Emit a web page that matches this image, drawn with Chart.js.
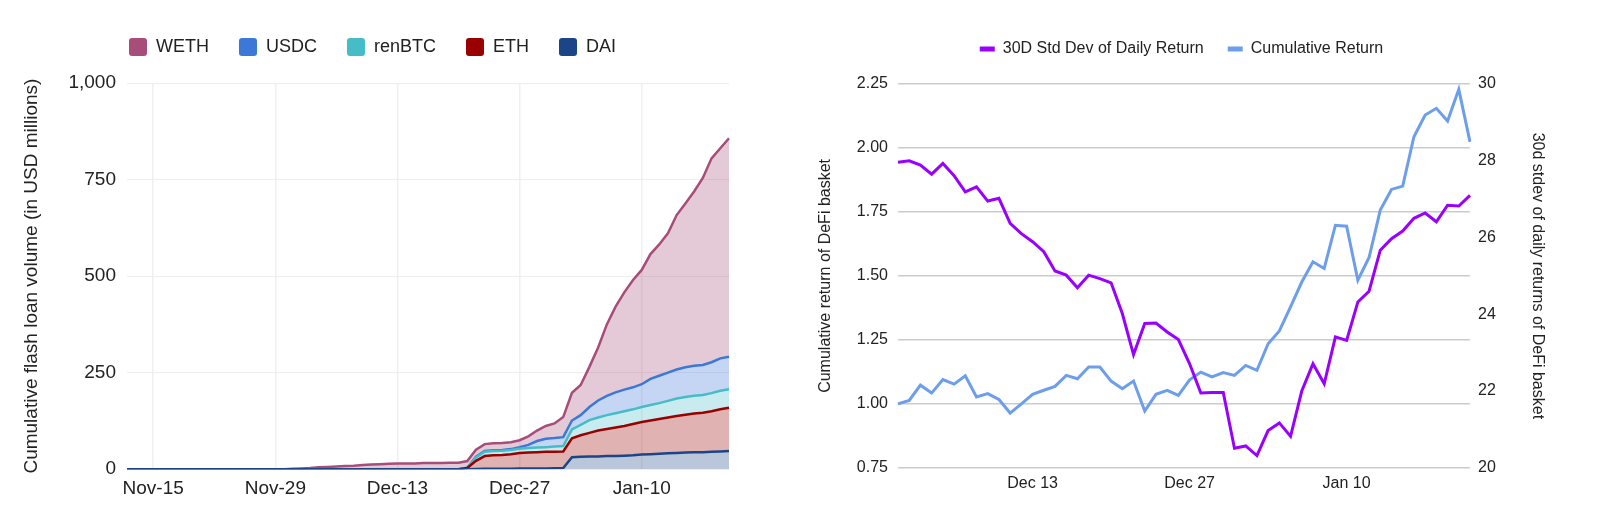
<!DOCTYPE html>
<html>
<head>
<meta charset="utf-8">
<script src="https://cdn.jsdelivr.net/npm/chart.js@4/dist/chart.umd.min.js"></script>
<style>
  body { margin: 0; background: #fff; }
  #wrap { position: relative; width: 1600px; height: 520px; }
  canvas { position: absolute; top: 0; }
  #left { left: 0; }
  #right { left: 790px; }
</style>
</head>
<body>
<div id="wrap">
  <canvas id="left" width="740" height="520"></canvas>
  <canvas id="right" width="785" height="520"></canvas>
</div>
<script>
// ---- left chart: cumulative flash loan volume (USD millions), daily
const loanDays = [
  "Nov-12","Nov-13","Nov-14","Nov-15","Nov-16","Nov-17","Nov-18","Nov-19","Nov-20","Nov-21",
  "Nov-22","Nov-23","Nov-24","Nov-25","Nov-26","Nov-27","Nov-28","Nov-29","Nov-30","Dec-1",
  "Dec-2","Dec-3","Dec-4","Dec-5","Dec-6","Dec-7","Dec-8","Dec-9","Dec-10","Dec-11",
  "Dec-12","Dec-13","Dec-14","Dec-15","Dec-16","Dec-17","Dec-18","Dec-19","Dec-20","Dec-21",
  "Dec-22","Dec-23","Dec-24","Dec-25","Dec-26","Dec-27","Dec-28","Dec-29","Dec-30","Dec-31",
  "Jan-1","Jan-2","Jan-3","Jan-4","Jan-5","Jan-6","Jan-7","Jan-8","Jan-9","Jan-10",
  "Jan-11","Jan-12","Jan-13","Jan-14","Jan-15","Jan-16","Jan-17","Jan-18","Jan-19","Jan-20"
];
const loanTicks = ["Nov-15", "Nov-29", "Dec-13", "Dec-27", "Jan-10"];

const wethVol = [
  0,0,0,0,0,0,0,0,0,0, 0,0,0,0,0,0,0,0,0,1,
  2,3,5,6,7,8,9,11,12,13, 14,15,15,15,16,16,16,17,17,17,
  18,18,18,18,18,18,22,27,33,38, 52,72,78,104,137,185,222,252,278,296,
  323,340,361,400,424,451,484,528,544,566
];
const usdcVol = [
  0,0,0,0,0,0,0,0,0,0, 0,0,0,0,0,0,0,0,0,0,
  0,0,0,0,0,0,0,0,0,0, 0,0,0,0,0,0,0,0,0,0.5,
  2,2,2,2,2,4,8,17,22,22, 23,23,25,34,44,50,54,56,57,59,
  68,71,73,75,77,78,78,80,84,84
];
const renbtcVol = [
  0,0,0,0,0,0,0,0,0,0, 0,0,0,0,0,0,0,0,0,0,
  0,0,0,0,0,0,0,0,0,0, 0,0,0,0,0,0,0,0,0,0.5,
  9,11,11,11,11,11,12,12,12,13, 14,23,27,33,34,36,37,38,38,39,
  40,41,43,45,46,46,46,47,48,48
];
const ethVol = [
  0,0,0,0,0,0,0,0,0,0, 0,0,0,0,0,0,0,0,0,0,
  0,0,0,0,0,0,0,0,0,0, 0,0,0,0,0,0,0,0,0,3,
  21,33,35,36,38,40.5,41,42,43,43, 43,49,56,61,67,70,74,77,81,84,
  87,90,93,96,98,100,102,105,109,112
];
const daiVol = [
  0,0,0,0,0,0,0,0,0,0, 0,0,0,0,0,0,0,0,0,0,
  0,0,0,0,0,0,0,0,0,0, 0,0,0,0,0,0,0,0,0,0,
  0.5,1,1,1,1,1.5,2,2,2,2.5, 3,31,32,33,33,34,34,35,36,38,
  39,40,41,42,43,44,44,45,46,47
];

// ---- right chart: DeFi basket return and volatility, daily
const basketDays = [
  "Dec 1","Dec 2","Dec 3","Dec 4","Dec 5","Dec 6","Dec 7","Dec 8","Dec 9","Dec 10",
  "Dec 11","Dec 12","Dec 13","Dec 14","Dec 15","Dec 16","Dec 17","Dec 18","Dec 19","Dec 20",
  "Dec 21","Dec 22","Dec 23","Dec 24","Dec 25","Dec 26","Dec 27","Dec 28","Dec 29","Dec 30",
  "Dec 31","Jan 1","Jan 2","Jan 3","Jan 4","Jan 5","Jan 6","Jan 7","Jan 8","Jan 9",
  "Jan 10","Jan 11","Jan 12","Jan 13","Jan 14","Jan 15","Jan 16","Jan 17","Jan 18","Jan 19",
  "Jan 20","Jan 21"
];
const basketTicks = ["Dec 13", "Dec 27", "Jan 10"];

const stdDev30d = [
  27.96,28.00,27.89,27.65,27.93,27.61,27.19,27.32,26.95,27.02,
  26.37,26.10,25.89,25.63,25.13,25.02,24.69,25.02,24.93,24.82,
  24.02,22.95,23.76,23.77,23.54,23.34,22.71,21.95,21.96,21.96,
  20.51,20.57,20.32,20.97,21.17,20.82,22.00,22.71,22.19,23.41,
  23.32,24.32,24.60,25.67,25.97,26.17,26.50,26.64,26.41,26.84,
  26.82,27.10
];
const cumReturn = [
  1.000,1.013,1.073,1.042,1.095,1.077,1.110,1.027,1.040,1.017,
  0.964,1.000,1.037,1.053,1.068,1.111,1.098,1.144,1.144,1.089,
  1.059,1.089,0.972,1.037,1.053,1.033,1.094,1.124,1.105,1.122,
  1.111,1.150,1.131,1.235,1.285,1.379,1.476,1.555,1.529,1.698,
  1.694,1.483,1.572,1.757,1.838,1.851,2.044,2.129,2.155,2.105,
  2.229,2.024
];

const FONT = "'Liberation Sans', Arial, sans-serif";

// legend height fixed so the plot area starts where the reference has it
const legendHeight = (h) => ({
  id: "legendHeight",
  beforeInit(chart) {
    const fit = chart.legend.fit;
    chart.legend.fit = function () {
      fit.call(this);
      this.height = h;
    };
  },
});

const solidLegend = (chart) =>
  Chart.defaults.plugins.legend.labels.generateLabels(chart).map((item) => {
    item.fillStyle = item.strokeStyle;
    item.lineWidth = 0;
    return item;
  });

const area = (label, data, color, fill) => ({
  label,
  data,
  borderColor: color,
  backgroundColor: color + "4d",
  borderWidth: 2.5,
  pointRadius: 0,
  tension: 0,
  fill,
});

new Chart(document.getElementById("left"), {
  type: "line",
  data: {
    labels: loanDays,
    datasets: [
      area("DAI", daiVol, "#1c4587", "origin"),
      area("ETH", ethVol, "#990000", "-1"),
      area("renBTC", renbtcVol, "#46bdc6", "-1"),
      area("USDC", usdcVol, "#3c78d8", "-1"),
      area("WETH", wethVol, "#a64d79", "-1"),
    ],
  },
  options: {
    responsive: false,
    animation: false,
    layout: { padding: { top: 8, left: 16, right: 11, bottom: 12 } },
    plugins: {
      tooltip: { enabled: false },
      legend: {
        position: "top",
        reverse: true,
        labels: {
          font: { family: FONT, size: 18 },
          color: "#222",
          boxWidth: 18,
          boxHeight: 18,
          padding: 30,
          useBorderRadius: true,
          borderRadius: 3,
          generateLabels: solidLegend,
        },
      },
    },
    scales: {
      x: {
        border: { display: false },
        grid: {
          drawTicks: false,
          lineWidth: 1.5,
          color: (c) => (c.tick && c.tick.label ? "#f0f0f0" : "rgba(0,0,0,0)"),
        },
        ticks: {
          autoSkip: false,
          maxRotation: 0,
          minRotation: 0,
          padding: 8,
          color: "#222",
          font: { family: FONT, size: 19 },
          callback: (v, i) => (loanTicks.includes(loanDays[i]) ? loanDays[i] : null),
        },
      },
      y: {
        stacked: true,
        min: 0,
        max: 1000,
        border: { display: false },
        grid: { drawTicks: false, color: "#eeeeee" },
        ticks: {
          stepSize: 250,
          padding: 11,
          color: "#222",
          font: { family: FONT, size: 19 },
          callback: (v) => v.toLocaleString("en-US"),
        },
        title: {
          display: true,
          text: "Cumulative flash loan volume (in USD millions)",
          color: "#222",
          font: { family: FONT, size: 19 },
        },
        afterFit: (s) => { s.width = 111; },
      },
    },
  },
  plugins: [legendHeight(75)],
});

new Chart(document.getElementById("right"), {
  type: "line",
  data: {
    labels: basketDays,
    datasets: [
      {
        label: "30D Std Dev of Daily Return",
        data: stdDev30d,
        yAxisID: "y2",
        borderColor: "#9900ff",
        backgroundColor: "#9900ff",
        borderWidth: 3,
        pointRadius: 0,
        tension: 0,
      },
      {
        label: "Cumulative Return",
        data: cumReturn,
        yAxisID: "y",
        borderColor: "#6d9eeb",
        backgroundColor: "#6d9eeb",
        borderWidth: 3,
        pointRadius: 0,
        tension: 0,
      },
    ],
  },
  options: {
    responsive: false,
    animation: false,
    layout: { padding: { top: 17, left: 22, right: 24, bottom: 21 } },
    plugins: {
      tooltip: { enabled: false },
      legend: {
        position: "top",
        labels: {
          font: { family: FONT, size: 16 },
          color: "#222",
          boxWidth: 15,
          boxHeight: 5,
          padding: 24,
          generateLabels: solidLegend,
        },
      },
    },
    scales: {
      x: {
        border: { display: false },
        grid: {
          drawTicks: false,
          lineWidth: 1.5,
          color: (c) => (basketTicks.includes(basketDays[c.index]) ? "#cccccc" : "rgba(0,0,0,0)"),
        },
        ticks: {
          autoSkip: false,
          maxRotation: 0,
          minRotation: 0,
          padding: 6,
          color: "#222",
          font: { family: FONT, size: 16 },
          callback: (v, i) => (basketTicks.includes(basketDays[i]) ? basketDays[i] : null),
        },
      },
      y: {
        position: "left",
        min: 0.75,
        max: 2.25,
        border: { display: false },
        grid: { drawTicks: false, color: "#cccccc", lineWidth: 1.5 },
        ticks: {
          stepSize: 0.25,
          padding: 10,
          color: "#222",
          font: { family: FONT, size: 16 },
          callback: (v) => v.toFixed(2),
        },
        title: {
          display: true,
          text: "Cumulative return of DeFi basket",
          color: "#222",
          font: { family: FONT, size: 16 },
        },
        afterFit: (s) => { s.width = 86; },
      },
      y2: {
        position: "right",
        min: 20,
        max: 30,
        border: { display: false },
        grid: { drawOnChartArea: false, drawTicks: false },
        ticks: {
          stepSize: 2,
          padding: 8,
          color: "#222",
          font: { family: FONT, size: 16 },
        },
        title: {
          display: true,
          text: "30d stdev of daily returns of DeFi basket",
          color: "#222",
          font: { family: FONT, size: 16 },
        },
        afterFit: (s) => { s.width = 81; },
      },
    },
  },
  plugins: [legendHeight(67)],
});
</script>
</body>
</html>
